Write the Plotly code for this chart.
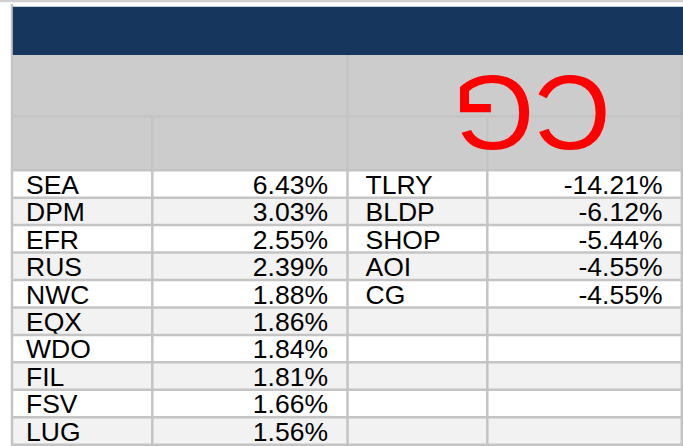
import plotly.graph_objects as go

# ---------------- data ----------------
gainers = ["SEA", "DPM", "EFR", "RUS", "NWC", "EQX", "WDO", "FIL", "FSV", "LUG"]
gainer_pct = [6.43, 3.03, 2.55, 2.39, 1.88, 1.86, 1.84, 1.81, 1.66, 1.56]
losers = ["TLRY", "BLDP", "SHOP", "AOI", "CG"]
loser_pct = [-14.21, -6.12, -5.44, -4.55, -4.55]
logo_text = "CG"

# ---------------- layout constants (pixel space) ----------------
W, H = 683, 446
COL_EDGES = [12, 152.3, 347.5, 487.3, 681.8]
NAVY_TOP, NAVY_BOT = 6.7, 55
HDR_MID = 116.3
ROW_TOP = 170.2
ROW_H = 27.45
N_ROWS = len(gainers)

NAVY = "#17365D"
HDR_GRAY = "#CCCCCC"
GRID = "#C4C4C4"
ALT = "#F2F2F2"
FONT = "Liberation Sans, Arial, sans-serif"
FS = 26.5

row_edges = [ROW_TOP + k * ROW_H for k in range(N_ROWS + 1)]
row_centers = [ROW_TOP + (k + 0.5) * ROW_H + 3.2 for k in range(N_ROWS)]

fig = go.Figure()

# cell fills (alternating rows)
z = [[k % 2] * 4 for k in range(N_ROWS)]
fig.add_trace(go.Heatmap(
    x=COL_EDGES, y=row_edges, z=z,
    colorscale=[[0, "#FFFFFF"], [1, ALT]], zmin=0, zmax=1,
    showscale=False, hoverinfo="skip",
))

def fmt(v):
    return f"{v:.2f}%"

tf = dict(family=FONT, size=FS, color="#000000")
# left table text
fig.add_trace(go.Scatter(
    x=[26] * len(gainers), y=row_centers[:len(gainers)], text=gainers,
    mode="text", textposition="middle right", textfont=tf, hoverinfo="skip"))
fig.add_trace(go.Scatter(
    x=[328] * len(gainer_pct), y=row_centers[:len(gainer_pct)],
    text=[fmt(v) for v in gainer_pct],
    mode="text", textposition="middle left", textfont=tf, hoverinfo="skip"))
# right table text
fig.add_trace(go.Scatter(
    x=[365.5] * len(losers), y=row_centers[:len(losers)], text=losers,
    mode="text", textposition="middle right", textfont=tf, hoverinfo="skip"))
fig.add_trace(go.Scatter(
    x=[662.5] * len(loser_pct), y=row_centers[:len(loser_pct)],
    text=[fmt(v) for v in loser_pct],
    mode="text", textposition="middle left", textfont=tf, hoverinfo="skip"))

shapes = []
# top strip line
shapes.append(dict(type="line", x0=0, x1=W, y0=1, y1=1, line=dict(color="#D0D0D0", width=2.5)))
# header gray
shapes.append(dict(type="rect", x0=COL_EDGES[0], x1=W, y0=NAVY_BOT, y1=ROW_TOP,
                   fillcolor=HDR_GRAY, line=dict(width=0), layer="below"))
# grid lines
lw = 2.5
shapes.append(dict(type="line", x0=COL_EDGES[0], x1=COL_EDGES[0], y0=4, y1=H, line=dict(color=GRID, width=lw)))
shapes.append(dict(type="line", x0=COL_EDGES[2], x1=COL_EDGES[2], y0=52, y1=H, line=dict(color=GRID, width=lw)))
for xe in (COL_EDGES[1], COL_EDGES[3]):
    shapes.append(dict(type="line", x0=xe, x1=xe, y0=HDR_MID, y1=H, line=dict(color=GRID, width=lw)))
shapes.append(dict(type="line", x0=COL_EDGES[4], x1=COL_EDGES[4], y0=NAVY_BOT, y1=H, line=dict(color=GRID, width=lw)))
shapes.append(dict(type="line", x0=COL_EDGES[0], x1=W, y0=HDR_MID, y1=HDR_MID, line=dict(color=GRID, width=lw)))
for ye in row_edges:
    shapes.append(dict(type="line", x0=COL_EDGES[0], x1=W, y0=ye, y1=ye, line=dict(color=GRID, width=lw)))
# navy band
shapes.append(dict(type="rect", x0=COL_EDGES[0] + 0.8, x1=W, y0=NAVY_TOP, y1=NAVY_BOT,
                   fillcolor=NAVY, line=dict(width=0)))

fig.update_layout(
    width=W, height=H,
    margin=dict(l=0, r=0, t=0, b=0),
    paper_bgcolor="#FFFFFF", plot_bgcolor="#FFFFFF",
    xaxis=dict(range=[0, W], visible=False, fixedrange=True),
    yaxis=dict(range=[H, 0], visible=False, fixedrange=True),
    showlegend=False,
    shapes=shapes,
    annotations=[dict(
        x=532, y=113.5, xref="x", yref="y", text=logo_text, showarrow=False,
        textangle=180, font=dict(family=FONT, size=106, color="#FF0000"),
        xanchor="center", yanchor="middle")],
)

fig.write_html(
    "out.html",
    config={"displayModeBar": False},
    post_script="document.body.style.margin='0';document.body.style.overflow='hidden';",
)
